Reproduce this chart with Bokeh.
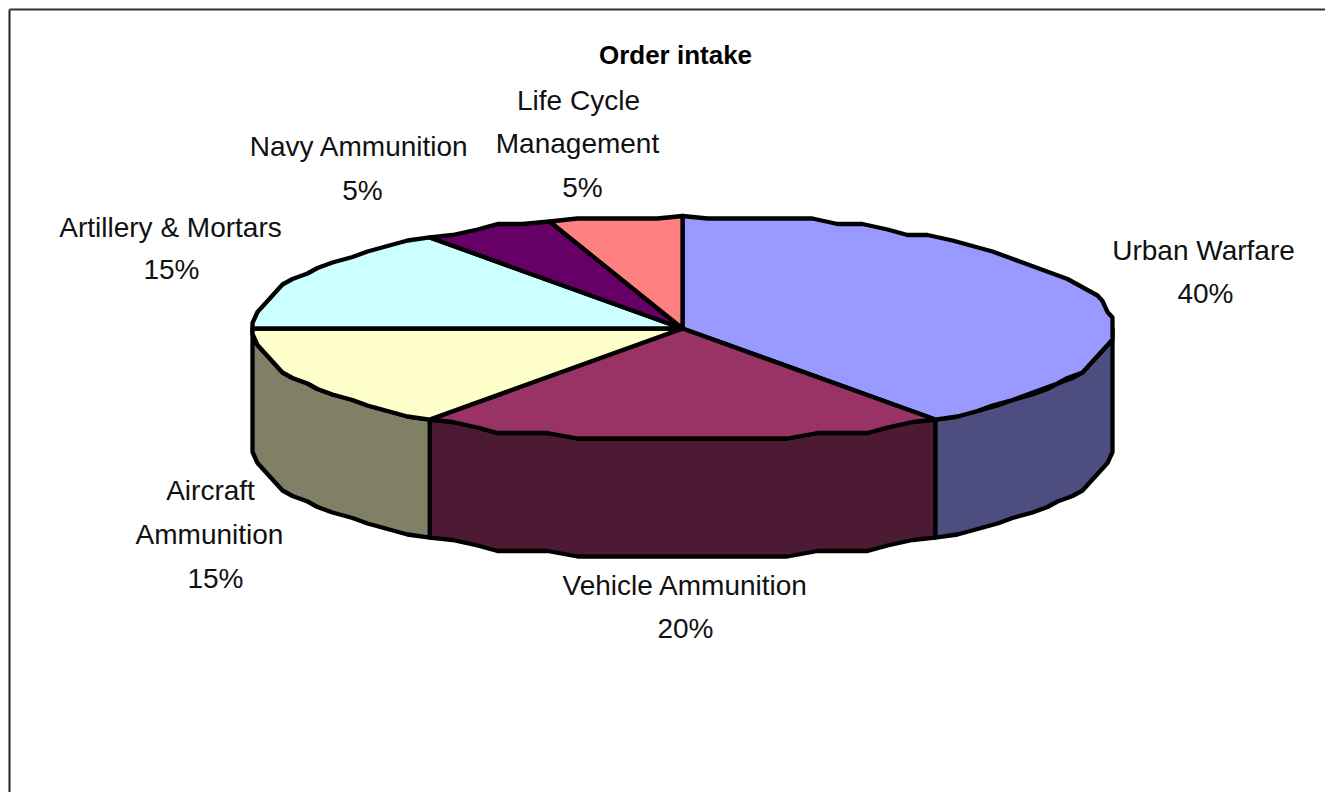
import math
from bokeh.plotting import figure
from bokeh.core.properties import value
from bokeh.embed import file_html
from bokeh.resources import INLINE

# Data
categories = ["Urban Warfare", "Vehicle Ammunition", "Aircraft Ammunition",
              "Artillery & Mortars", "Navy Ammunition", "Life Cycle Management"]
shares = [40, 20, 15, 15, 5, 5]
title_text = "Order intake"

# Styles
top_colors = ["#9999FF", "#993366", "#FFFFCC", "#CCFFFF", "#660066", "#FF8080"]
side_colors = ["#4D4D80", "#4D1A33", "#808066", "#668080", "#330033", "#804040"]

# Layout, in page pixels
CX, CY, RX, RY, DEPTH = 682, 328, 430, 112.5, 118
GRID_X, GRID_Y = 5.0, 5.5
STEP = 3.5
LW = 4.3
FONT = "Liberation Sans"

label_lines = [
    [("Urban Warfare", 1203, 250)],
    [("Vehicle Ammunition", 685, 585)],
    [("Aircraft", 210, 490), ("Ammunition", 209, 534)],
    [("Artillery & Mortars", 170, 227)],
    [("Navy Ammunition", 359, 146)],
    [("Life Cycle", 578, 100), ("Management", 577, 143)],
]
pct_pos = [(1205, 293), (685, 628), (215, 578), (171, 269), (362, 190), (582, 187)]

p = figure(width=1325, height=792, x_range=(0, 1325), y_range=(792, 0),
           toolbar_location=None, output_backend="svg", min_border=0,
           background_fill_color="white", border_fill_color="white")
p.axis.visible = False
p.grid.visible = False
p.outline_line_color = None


def arc(a0, a1, dy=0.0):
    """Points of the rim, clockwise from 12 o'clock, on the coarse device grid of the original."""
    n = max(2, int(abs(a1 - a0) / STEP))
    pts = []
    for i in range(n + 1):
        a = math.radians(a0 + (a1 - a0) * i / n)
        x = CX + RX * math.sin(a)
        y = CY - RY * math.cos(a)
        if 0 < i < n:
            x = CX + round((x - CX) / GRID_X) * GRID_X
            y = CY + round((y - CY) / GRID_Y) * GRID_Y
        pts.append((x, y + dy))
    return pts


total = sum(shares)
angles = [0.0]
for s in shares:
    angles.append(angles[-1] + 360.0 * s / total)

# Walls of the visible front half
for i in range(len(shares)):
    a0, a1 = max(angles[i], 90), min(angles[i + 1], 270)
    if a1 <= a0:
        continue
    pts = arc(a0, a1) + arc(a0, a1, DEPTH)[::-1]
    p.patch([q[0] for q in pts], [q[1] for q in pts], fill_color=side_colors[i],
            line_color="black", line_width=LW, line_join="round")

# Top faces
for i in range(len(shares)):
    pts = [(CX, CY)] + arc(angles[i], angles[i + 1])
    p.patch([q[0] for q in pts], [q[1] for q in pts], fill_color=top_colors[i],
            line_color="black", line_width=LW, line_join="round")

# Labels
for i, lines in enumerate(label_lines):
    for txt, x, y in lines:
        p.text([x], [y], text=[txt], text_font=value(FONT), text_font_size=value("28px"),
               text_align="center", text_baseline="middle", text_color="#111111")
    px, py = pct_pos[i]
    p.text([px], [py], text=[f"{shares[i]}%"], text_font=value(FONT), text_font_size=value("28px"),
           text_align="center", text_baseline="middle", text_color="#111111")

p.text([675], [54], text=[title_text], text_font=value(FONT), text_font_size=value("26px"),
       text_font_style="bold", text_align="center", text_baseline="middle", text_color="black")

# Chart frame: only its top and left edges fall inside the picture
p.line([9, 9], [9, 792], line_color="#222222", line_width=2)
p.line([9, 1325], [9, 9], line_color="#333333", line_width=2)

open("out.html", "w").write(file_html(p, INLINE))
